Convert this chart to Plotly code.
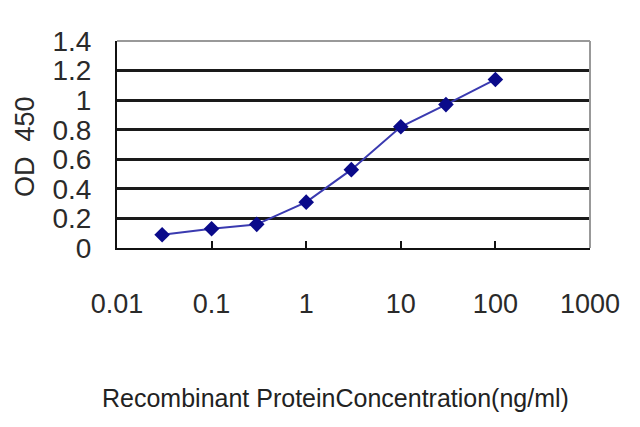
import plotly.graph_objects as go

conc = [0.03, 0.1, 0.3, 1, 3, 10, 30, 100]
od450 = [0.09, 0.13, 0.16, 0.31, 0.53, 0.82, 0.97, 1.14]
x_ticks = [0.01, 0.1, 1, 10, 100, 1000]
x_tick_labels = ["0.01", "0.1", "1", "10", "100", "1000"]
y_ticks = [0, 0.2, 0.4, 0.6, 0.8, 1.0, 1.2, 1.4]
y_tick_labels = ["0", "0.2", "0.4", "0.6", "0.8", "1", "1.2", "1.4"]
x_title = "Recombinant ProteinConcentration(ng/ml)"
y_title = "OD  450"

fig = go.Figure()
fig.add_trace(go.Scatter(
    x=conc, y=od450, mode="lines+markers",
    line=dict(color="#3a3ab0", width=2),
    marker=dict(symbol="diamond", size=12, color="#0a0a8a"),
    showlegend=False,
))

font = "Liberation Sans, Arial, sans-serif"
fig.update_layout(
    width=640, height=427,
    margin=dict(l=109, r=58, t=33, b=187),
    paper_bgcolor="white", plot_bgcolor="white",
    font=dict(family=font, color="#222"),
    xaxis=dict(
        type="log", range=[-2, 3], automargin=False,
        tickvals=x_ticks, ticktext=x_tick_labels,
        tickfont=dict(size=27, color="#2a2a2a"),
        ticks="inside", ticklen=7, tickcolor="#111", tickwidth=2,
        ticklabelstandoff=31,
        showgrid=False, showline=True, linecolor="#111", linewidth=2,
        mirror=False, zeroline=False,
    ),
    yaxis=dict(
        range=[0, 1.4], automargin=False,
        tickvals=y_ticks, ticktext=y_tick_labels,
        tickfont=dict(size=28, color="#2a2a2a"),
        ticks="", ticklabelstandoff=18,
        showgrid=True, gridcolor="#1a1a1a", gridwidth=2.5,
        showline=True, linecolor="#111", linewidth=2,
        zeroline=False,
    ),
    annotations=[
        dict(text=x_title, xref="paper", yref="paper", x=0.462, y=-0.725,
             xanchor="center", yanchor="middle", showarrow=False,
             font=dict(size=25, color="#222")),
        dict(text=y_title, xref="paper", yref="paper", x=-0.1945, y=0.488,
             xanchor="center", yanchor="middle", showarrow=False, textangle=-90,
             font=dict(size=27, color="#2a2a2a")),
    ],
    shapes=[
        dict(type="line", xref="paper", yref="paper", x0=0, x1=1, y0=1, y1=1,
             line=dict(color="#999", width=2)),
        dict(type="line", xref="paper", yref="paper", x0=1, x1=1, y0=0, y1=1,
             line=dict(color="#999", width=2)),
    ],
)

fig.write_html("out.html")
